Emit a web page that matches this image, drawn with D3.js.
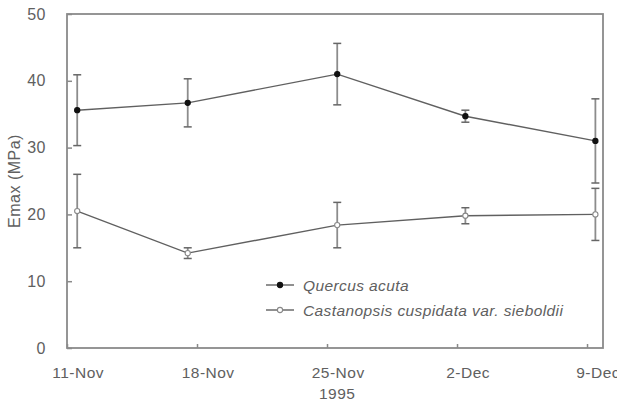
<!DOCTYPE html>
<html>
<head>
<meta charset="utf-8">
<script src="https://cdn.jsdelivr.net/npm/d3@7"></script>
<style>
  html, body { margin: 0; padding: 0; background: #fff; }
  svg { display: block; }
  text { font-family: "Liberation Sans", Arial, sans-serif; fill: #606060; }
</style>
</head>
<body>
<svg id="chart" width="617" height="403"></svg>
<script>
// ---- data ----
const tickLabels = ["11-Nov", "18-Nov", "25-Nov", "2-Dec", "9-Dec"];
const tickDays = [0, 7, 14, 21, 28];            // days after 11-Nov-1995
const sampleDays = [0.55, 6.5, 14.55, 21.45, 28.45];
const quercusMean = [35.6, 36.7, 41.0, 34.7, 31.0];
const quercusErr  = [5.3, 3.6, 4.6, 0.9, 6.3];
const castanMean  = [20.5, 14.2, 18.4, 19.8, 20.0];
const castanErr   = [5.5, 0.8, 3.4, 1.2, 3.9];
const yTicks = [0, 10, 20, 30, 40, 50];
const seriesNames = ["Quercus acuta", "Castanopsis cuspidata var. sieboldii"];
const xTitle = "1995";
const yTitle = "Emax (MPa)";

// ---- layout ----
const svg = d3.select("#chart");
const mLeft = 67, mRight = 603, mTop = 14, mBottom = 348;
const x = d3.scaleLinear().domain([0, 28.86]).range([mLeft, mRight]);
const y = d3.scaleLinear().domain([0, 50]).range([mBottom, mTop]);

const frameColor = "#8a8a8a";
const lineColor = "#606060";
const errColor = "#8c8c8c";

// frame
svg.append("rect")
  .attr("x", mLeft).attr("y", mTop)
  .attr("width", mRight - mLeft).attr("height", mBottom - mTop)
  .attr("fill", "none").attr("stroke", frameColor).attr("stroke-width", 1.8);

// y axis ticks (inward) and labels
const yAxis = d3.axisLeft(y).tickValues(yTicks).tickSize(-5).tickPadding(21).tickFormat(d3.format("d"));
const gy = svg.append("g").attr("transform", `translate(${mLeft},0)`).call(yAxis);
gy.select(".domain").remove();
gy.selectAll(".tick line").attr("stroke", frameColor).attr("stroke-width", 1.5);
gy.selectAll(".tick text").attr("fill", "#606060").style("font-size", "16px")
  .style("letter-spacing", "0.5px").style("font-family", "Liberation Sans, Arial, sans-serif");

// x axis ticks (inward)
const xAxis = d3.axisBottom(x).tickValues(tickDays).tickSize(-4).tickFormat("");
const gx = svg.append("g").attr("transform", `translate(0,${mBottom})`).call(xAxis);
gx.select(".domain").remove();
gx.selectAll(".tick line").attr("stroke", frameColor).attr("stroke-width", 1.5);

// x tick labels (centered at noon of each labelled day)
svg.append("g").selectAll("text").data(tickLabels).join("text")
  .attr("x", (d, i) => x(tickDays[i] + 0.6))
  .attr("y", 378)
  .attr("text-anchor", "middle")
  .style("font-size", "15.5px").style("letter-spacing", "0.5px")
  .text(d => d);

// axis titles
svg.append("text").attr("x", x(14.55)).attr("y", 399).attr("text-anchor", "middle")
  .style("font-size", "15.5px").style("letter-spacing", "0.5px").text(xTitle);
svg.append("text").attr("transform", `translate(20,${(mTop + mBottom) / 2}) rotate(-90)`)
  .attr("text-anchor", "middle").attr("y", 0)
  .style("font-size", "16px").style("letter-spacing", "0.5px").text(yTitle);

// series
const series = [
  { name: seriesNames[0], mean: quercusMean, err: quercusErr, filled: true },
  { name: seriesNames[1], mean: castanMean, err: castanErr, filled: false }
];

const line = d3.line().x(d => x(d.day)).y(d => y(d.v));

series.forEach(s => {
  const pts = s.mean.map((v, i) => ({ day: sampleDays[i], v, e: s.err[i] }));
  const g = svg.append("g");
  const eb = g.selectAll(".eb").data(pts).join("g");
  eb.append("line")
    .attr("x1", d => x(d.day)).attr("x2", d => x(d.day))
    .attr("y1", d => y(d.v + d.e)).attr("y2", d => y(d.v - d.e))
    .attr("stroke", errColor).attr("stroke-width", 1.8);
  [1, -1].forEach(sgn => {
    eb.append("line")
      .attr("x1", d => x(d.day) - 4).attr("x2", d => x(d.day) + 4)
      .attr("y1", d => y(d.v + sgn * d.e)).attr("y2", d => y(d.v + sgn * d.e))
      .attr("stroke", "#666").attr("stroke-width", 1.5);
  });
  g.append("path").datum(pts).attr("d", line)
    .attr("fill", "none").attr("stroke", lineColor).attr("stroke-width", 1.4);
  g.selectAll("circle").data(pts).join("circle")
    .attr("cx", d => x(d.day)).attr("cy", d => y(d.v)).attr("r", 2.6)
    .attr("fill", s.filled ? "#111" : "#fff")
    .attr("stroke", s.filled ? "#111" : "#888").attr("stroke-width", 1.1);
});

// legend
const legend = svg.append("g");
series.forEach((s, i) => {
  const ly = 285 + i * 25;
  legend.append("line").attr("x1", 266).attr("x2", 294).attr("y1", ly).attr("y2", ly)
    .attr("stroke", lineColor).attr("stroke-width", 1.4);
  legend.append("circle").attr("cx", 280).attr("cy", ly).attr("r", 2.6)
    .attr("fill", s.filled ? "#111" : "#fff")
    .attr("stroke", s.filled ? "#111" : "#888").attr("stroke-width", 1.1);
  legend.append("text").attr("x", 303).attr("y", ly + 5.5)
    .style("font-size", "15.5px").style("font-style", "italic").style("letter-spacing", "0.4px")
    .text(s.name);
});
</script>
</body>
</html>
